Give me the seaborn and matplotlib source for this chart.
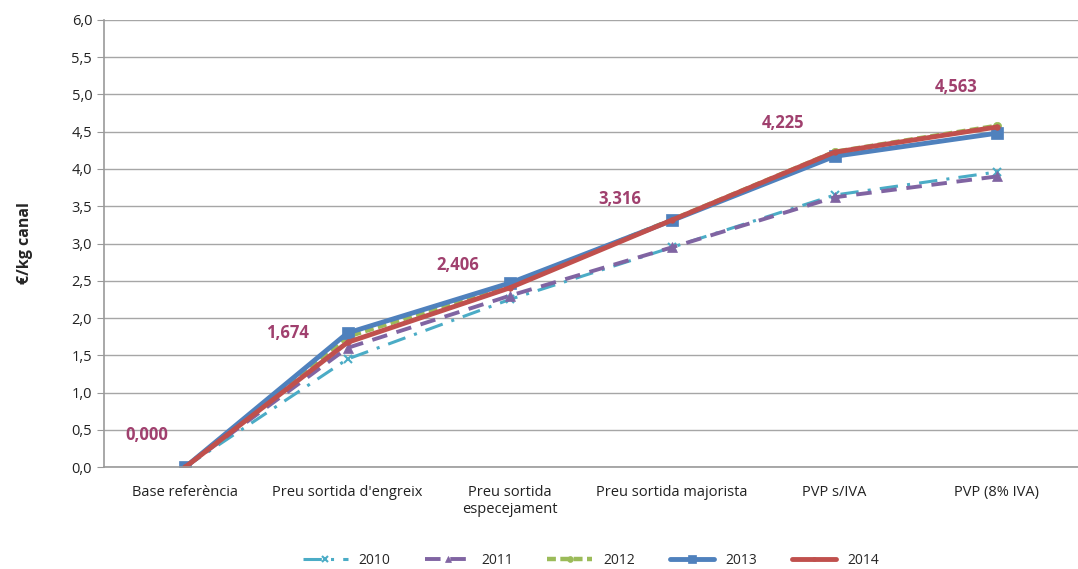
import pandas as pd
import seaborn as sns
import matplotlib.pyplot as plt

# Dades
categories = ['Base referència', "Preu sortida d'engreix", 'Preu sortida\nespecejament',
              'Preu sortida majorista', 'PVP s/IVA', 'PVP (8% IVA)']
anys = ['2010', '2011', '2012', '2013', '2014']
v2010 = [0.0, 1.45, 2.25, 2.95, 3.65, 3.96]
v2011 = [0.0, 1.60, 2.30, 2.95, 3.62, 3.90]
v2012 = [0.0, 1.75, 2.44, 3.32, 4.23, 4.58]
v2013 = [0.0, 1.80, 2.47, 3.31, 4.17, 4.48]
v2014 = [0.0, 1.674, 2.406, 3.316, 4.225, 4.563]
valors = [v2010, v2011, v2012, v2013, v2014]

sns.set_style('white')
plt.rcParams['font.family'] = ['Open Sans', 'DejaVu Sans']

files = []
for any_, serie in zip(anys, valors):
    for i, v in enumerate(serie):
        files.append({'Any': any_, 'pos': i, 'valor': v})
df = pd.DataFrame(files)

estils = {
    '2010': dict(color='#4BACC6', linestyle=(0, (6, 3, 1, 3)), marker='x', lw=2.2, ms=6),
    '2011': dict(color='#8064A2', linestyle=(0, (4, 2.5)), marker='^', lw=2.8, ms=7),
    '2012': dict(color='#9BBB59', linestyle=(0, (2, 1)), marker='o', lw=3.2, ms=6),
    '2013': dict(color='#4F81BD', linestyle='-', marker='s', lw=3.5, ms=8),
    '2014': dict(color='#C0504D', linestyle='-', marker='o', lw=3.5, ms=4),
}

fig = plt.figure(figsize=(10.78, 5.69), dpi=100)
ax = fig.add_axes([0.0965, 0.179, 0.9035, 0.786])

for any_ in anys:
    e = estils[any_]
    sns.lineplot(data=df[df['Any'] == any_], x='pos', y='valor', ax=ax, label=any_,
                 color=e['color'], linestyle=e['linestyle'], marker=e['marker'],
                 linewidth=e['lw'], markersize=e['ms'], markeredgecolor=e['color'],
                 markeredgewidth=1.5 if e['marker'] == 'x' else 0.5)

# Etiquetes de valors (2014)
desplac = [(-38, 32), (-60, 9), (-52, 23), (-52, 21), (-52, 29), (-41, 40)]
for i, v in enumerate(v2014):
    ax.annotate(f'{v:.3f}'.replace('.', ','), xy=(i, v), xytext=desplac[i],
                textcoords='offset pixels', ha='center', va='center',
                fontsize=12, fontweight='bold', color='#A0406E')

ax.set_xlim(-0.5, 5.5)
ax.set_ylim(0, 6.0)
ax.set_yticks([i * 0.5 for i in range(13)])
ax.set_yticklabels([f'{i * 0.5:.1f}'.replace('.', ',') for i in range(13)], fontsize=10.5,
                   color='#222222')
ax.set_xticks(range(6))
ax.set_xticklabels(categories, fontsize=10.5, color='#222222')
ax.set_xticks([i - 0.5 for i in range(7)], minor=True)
ax.tick_params(axis='x', which='major', length=0, pad=13)
ax.tick_params(axis='x', which='minor', length=5, color='#999999', direction='out')
ax.tick_params(axis='y', length=5, color='#999999', direction='out', left=True)
ax.grid(axis='y', color='#A6A6A6', linewidth=1)
ax.set_axisbelow(True)
for s in ['top', 'right']:
    ax.spines[s].set_visible(False)
for s in ['left', 'bottom']:
    ax.spines[s].set_color('#999999')
    ax.spines[s].set_linewidth(1.2)

ax.set_xlabel('')
ax.set_ylabel('€/kg canal', fontsize=11.5, fontweight='bold', labelpad=28)

ax.legend(loc='center', bbox_to_anchor=(0.5, -0.208), ncol=5, frameon=False,
          fontsize=10, handlelength=3.2, columnspacing=2.5, markerscale=0.7)

fig.savefig('out.png', dpi=100)
